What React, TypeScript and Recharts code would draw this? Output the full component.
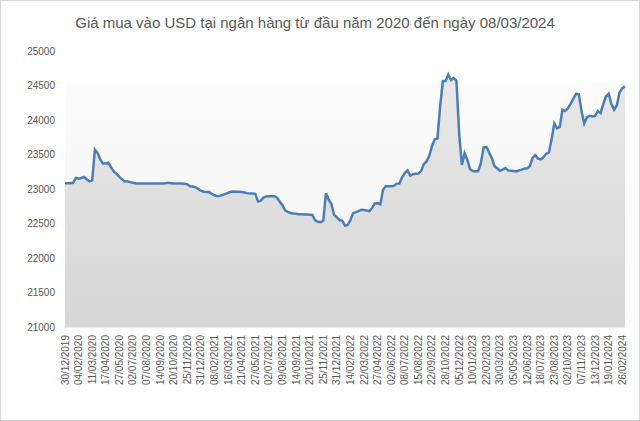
import { AreaChart, Area, XAxis, YAxis, CartesianGrid } from "recharts"

// nhãn trục hoành (mỗi nhãn cách nhau 5 điểm dữ liệu)
const tickLabels = [
    "30/12/2019", "04/02/2020", "11/03/2020", "17/04/2020", "27/05/2020", "02/07/2020",
    "07/08/2020", "14/09/2020", "20/10/2020", "25/11/2020", "31/12/2020", "08/02/2021",
    "16/03/2021", "21/04/2021", "27/05/2021", "02/07/2021", "09/08/2021", "14/09/2021",
    "20/10/2021", "25/11/2021", "31/12/2021", "14/02/2022", "22/03/2022", "27/04/2022",
    "02/06/2022", "08/07/2022", "15/08/2022", "22/09/2022", "28/10/2022", "05/12/2022",
    "10/01/2023", "22/02/2023", "30/03/2023", "05/05/2023", "12/06/2023", "18/07/2023",
    "23/08/2023", "02/10/2023", "07/11/2023", "13/12/2023", "19/01/2024", "26/02/2024",
]

// giá mua vào, lấy mẫu khoảng 5 phiên một lần
const buyPrice = [
    23085, 23085, 23085, 23090, 23160, 23150, 23160, 23175, 23140, 23110,
    23125, 23570, 23520, 23426, 23370, 23370, 23380, 23310, 23250, 23220,
    23175, 23140, 23110, 23110, 23100, 23090, 23080, 23080, 23080, 23080,
    23080, 23080, 23080, 23080, 23080, 23080, 23080, 23085, 23090, 23085,
    23080, 23080, 23080, 23080, 23075, 23068, 23040, 23035, 23025, 23000,
    22975, 22960, 22957, 22955, 22930, 22909, 22895, 22900, 22915, 22930,
    22945, 22960, 22965, 22960, 22960, 22955, 22950, 22940, 22933, 22933,
    22930, 22820, 22830, 22875, 22890, 22894, 22895, 22895, 22875, 22815,
    22764, 22691, 22670, 22652, 22645, 22640, 22635, 22633, 22630, 22630,
    22628, 22625, 22550, 22525, 22520, 22540, 22940, 22845, 22780, 22625,
    22590, 22550, 22540, 22470, 22480, 22550, 22650, 22665, 22680, 22700,
    22695, 22690, 22677, 22730, 22790, 22795, 22780, 22990, 23040, 23040,
    23040, 23045, 23078, 23080, 23170, 23230, 23271, 23195, 23215, 23220,
    23225, 23260, 23360, 23400, 23480, 23620, 23720, 23730, 24200, 24565,
    24565, 24660, 24580, 24610, 24565, 23800, 23350, 23520, 23420, 23290,
    23260, 23255, 23260, 23380, 23600, 23610, 23530, 23450, 23330, 23300,
    23265, 23280, 23305, 23270, 23265, 23260, 23255, 23270, 23280, 23295,
    23300, 23330, 23450, 23490, 23440, 23430, 23460, 23510, 23530, 23720,
    23950, 23880, 23900, 24150, 24130, 24170, 24235, 24310, 24380, 24375,
    24130, 23950, 24040, 24060, 24050, 24060, 24130, 24100, 24230, 24340,
    24380, 24230, 24150, 24210, 24400, 24460, 24490,
]

const yTicks = [21000, 21500, 22000, 22500, 23000, 23500, 24000, 24500, 25000]

const pointsPerLabel = 5
const data = buyPrice.map((price, i) => ({ t: i, price }))
const xTicks = tickLabels.map((_, i) => i * pointsPerLabel)

const textColor = "#595959"

const DateTick = ({ x, y, payload }: any) => (
    <g transform={`translate(${x},${y})`}>
        <text
            transform="rotate(-90)"
            textAnchor="end"
            dy="0.35em"
            fill={textColor}
            fontSize={10}
        >
            {tickLabels[Math.round(payload.value / pointsPerLabel)]}
        </text>
    </g>
)

export default function App() {
    return (
        <div
            style={{
                position: "relative",
                width: 640,
                height: 421,
                boxSizing: "border-box",
                border: "1px solid #d9d9d9",
                background: "#fff",
                fontFamily: "'Liberation Sans', Arial, sans-serif",
            }}
        >
            <style>{`body { margin: 0; }`}</style>
            <div
                style={{
                    position: "absolute",
                    top: 13,
                    left: 0,
                    width: 628,
                    textAlign: "center",
                    fontSize: 15,
                    lineHeight: "18px",
                    color: textColor,
                }}
            >
                Giá mua vào USD tại ngân hàng từ đầu năm 2020 đến ngày 08/03/2024
            </div>
            <div style={{ position: "absolute", left: 0, top: 0 }}>
                <AreaChart
                    width={638}
                    height={419}
                    data={data}
                    margin={{ top: 50, right: 14, bottom: 0, left: 0 }}
                >
                    <defs>
                        <linearGradient id="areaFill" x1="0" y1="0" x2="0" y2="1">
                            <stop offset="0%" stopColor="#e9e9e9" />
                            <stop offset="100%" stopColor="#d6d6d6" />
                        </linearGradient>
                        <linearGradient id="plotBg" x1="0" y1="0" x2="0" y2="1">
                            <stop offset="0%" stopColor="#ffffff" />
                            <stop offset="11%" stopColor="#ffffff" />
                            <stop offset="12%" stopColor="#fcfcfc" />
                            <stop offset="100%" stopColor="#f2f2f2" />
                        </linearGradient>
                    </defs>
                    <CartesianGrid horizontal={false} vertical={false} fill="url(#plotBg)" />
                    <XAxis
                        type="number"
                        dataKey="t"
                        domain={[0, buyPrice.length - 1]}
                        ticks={xTicks}
                        interval={0}
                        tick={<DateTick />}
                        tickLine={false}
                        axisLine={{ stroke: "#d9d9d9" }}
                        height={93}
                    />
                    <YAxis
                        domain={[21000, 25000]}
                        ticks={yTicks}
                        tickLine={false}
                        axisLine={false}
                        width={64}
                        tickMargin={4}
                        tick={{ fill: textColor, fontSize: 10 }}
                    />
                    <Area
                        type="linear"
                        dataKey="price"
                        stroke="#4a7ebb"
                        strokeWidth={2.5}
                        fill="url(#areaFill)"
                        fillOpacity={1}
                        dot={false}
                        activeDot={false}
                        isAnimationActive={false}
                    />
                </AreaChart>
            </div>
        </div>
    )
}
